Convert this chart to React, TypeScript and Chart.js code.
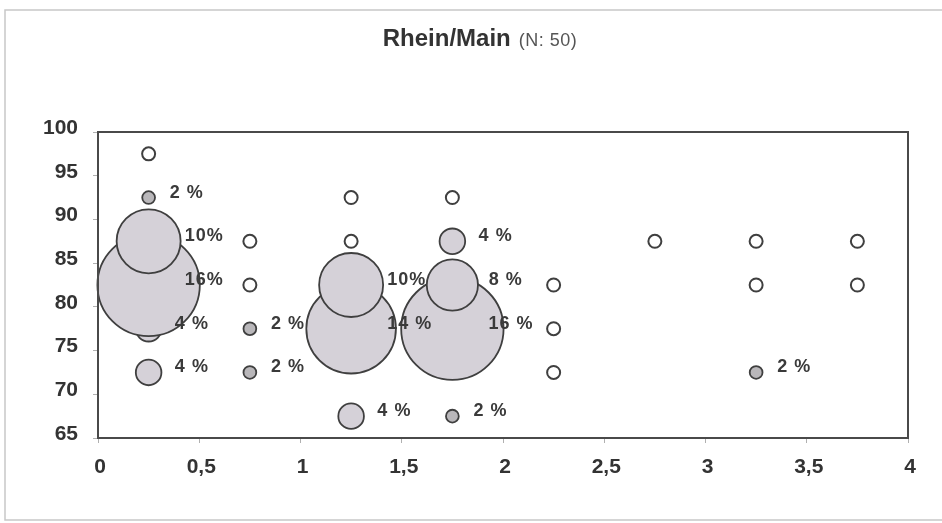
import React, { useEffect, useRef } from "react";
import { Chart, registerables } from "chart.js";

Chart.register(...registerables);

// ---- data ----
const titleMain = "Rhein/Main";
const titleSub = "(N: 50)";

// shaded bubbles (share of respondents in %), listed in drawing order
const bubbleX = [0.25, 0.25, 1.75, 1.25, 0.25, 1.25, 1.75, 0.25, 0.25, 0.75, 0.75, 1.25, 1.75, 1.75, 3.25];
const bubbleY = [77.5, 82.5, 77.5, 77.5, 87.5, 82.5, 82.5, 92.5, 72.5, 77.5, 72.5, 67.5, 87.5, 67.5, 72.5];
const bubbleShare = [4, 16, 16, 14, 10, 10, 8, 2, 4, 2, 2, 4, 4, 2, 2];
const bubbleLabels = ["4 %", "16%", "16 %", "14 %", "10%", "10%", "8 %", "2 %", "4 %", "2 %", "2 %", "4 %", "4 %", "2 %", "2 %"];

// empty (unoccupied) positions
const emptyX = [0.25, 0.75, 0.75, 1.25, 1.25, 1.75, 2.25, 2.25, 2.25, 2.75, 3.25, 3.25, 3.75, 3.75];
const emptyY = [97.5, 87.5, 82.5, 92.5, 87.5, 92.5, 82.5, 77.5, 72.5, 87.5, 87.5, 82.5, 87.5, 82.5];

const xMin = 0, xMax = 4, xStep = 0.5;
const yMin = 65, yMax = 100, yStep = 5;

const FONT = '"Liberation Sans", Arial, sans-serif';
const PX_PER_PERCENT = 3.2;

export default function App() {
  const ref = useRef<HTMLCanvasElement | null>(null);

  useEffect(() => {
    if (!ref.current) return;

    const bubbles = bubbleX.map((x, i) => ({
      x,
      y: bubbleY[i],
      r: bubbleShare[i] * PX_PER_PERCENT,
      share: bubbleShare[i],
      label: bubbleLabels[i],
    }));
    const empties = emptyX.map((x, i) => ({ x, y: emptyY[i], r: 6.5 }));

    const decorPlugin = {
      id: "decor",
      beforeDraw(chart: any) {
        const ctx = chart.ctx;
        ctx.save();
        ctx.fillStyle = "#ffffff";
        ctx.fillRect(0, 0, chart.width, chart.height);
        ctx.strokeStyle = "#c8c8c8";
        ctx.lineWidth = 1.5;
        ctx.beginPath();
        ctx.moveTo(942, 10);
        ctx.lineTo(5, 10);
        ctx.lineTo(5, 520);
        ctx.lineTo(942, 520);
        ctx.stroke();
        ctx.restore();
      },
      afterDatasetsDraw(chart: any) {
        const ctx = chart.ctx;
        const { left, right, top, bottom } = chart.chartArea;
        ctx.save();
        ctx.strokeStyle = "#4a4a4a";
        ctx.lineWidth = 2;
        ctx.strokeRect(left, top, right - left, bottom - top);

        // data labels
        const meta = chart.getDatasetMeta(1);
        ctx.font = `bold 18px ${FONT}`;
        (ctx as any).letterSpacing = "1px";
        ctx.fillStyle = "#3a3a3a";
        ctx.textBaseline = "middle";
        ctx.textAlign = "left";
        meta.data.forEach((el: any, i: number) => {
          const d = bubbles[i];
          const r = d.r;
          const off = r < 30 ? 16 + 0.8 * r : 36;
          ctx.fillText(d.label, el.x + off, el.y - 5);
        });

        // title
        (ctx as any).letterSpacing = "0px";
        ctx.textBaseline = "alphabetic";
        ctx.font = `bold 24px ${FONT}`;
        const w1 = ctx.measureText(titleMain).width;
        ctx.font = `18px ${FONT}`;
        (ctx as any).letterSpacing = "0.5px";
        const w2 = ctx.measureText(titleSub).width;
        const gap = 8;
        const start = 480 - (w1 + gap + w2) / 2;
        ctx.fillStyle = "#333333";
        ctx.font = `bold 24px ${FONT}`;
        (ctx as any).letterSpacing = "0px";
        ctx.fillText(titleMain, start, 46);
        ctx.font = `18px ${FONT}`;
        (ctx as any).letterSpacing = "0.5px";
        ctx.fillStyle = "#555555";
        ctx.fillText(titleSub, start + w1 + gap, 46);
        ctx.restore();
      },
    };

    const fmt = (v: any) => String(v).replace(".", ",");

    const chart = new Chart(ref.current, {
      type: "bubble",
      data: {
        datasets: [
          {
            label: "leer",
            data: empties,
            backgroundColor: "#ffffff",
            borderColor: "#3f3f3f",
            borderWidth: 2,
            clip: false,
          } as any,
          {
            label: "Anteil",
            data: bubbles,
            backgroundColor: (c: any) => (c.raw && c.raw.share <= 2 ? "#b9b7ba" : "#d5d1d8"),
            borderColor: "#3f3f3f",
            borderWidth: 1.8,
            clip: false,
          } as any,
        ],
      },
      options: {
        animation: false,
        responsive: true,
        maintainAspectRatio: false,
        layout: { autoPadding: false, padding: { left: 0, right: 34, top: 132, bottom: 35 } },
        plugins: {
          legend: { display: false },
          title: { display: false },
          tooltip: { enabled: false },
        },
        scales: {
          x: {
            type: "linear",
            min: xMin,
            max: xMax,
            afterFit: (s: any) => { s.height = 50; },
            border: { display: false },
            grid: { drawOnChartArea: false, drawTicks: true, tickLength: 5, color: "#b0b0b0" },
            ticks: {
              stepSize: xStep,
              padding: 12,
              labelOffset: 2,
              color: "#333333",
              font: { family: FONT, size: 21, weight: "bold" },
              callback: (v: any) => fmt(v),
            },
          },
          y: {
            type: "linear",
            min: yMin,
            max: yMax,
            afterFit: (s: any) => { s.width = 98; },
            border: { display: false },
            grid: { drawOnChartArea: false, drawTicks: true, tickLength: 5, color: "#b0b0b0" },
            ticks: {
              stepSize: yStep,
              padding: 15,
              labelOffset: -4,
              color: "#333333",
              font: { family: FONT, size: 21, weight: "bold" },
              callback: (v: any) => fmt(v),
            },
          },
        },
      } as any,
      plugins: [decorPlugin],
    });

    return () => chart.destroy();
  }, []);

  return (
    <div style={{ position: "fixed", left: 0, top: 0, width: 942, height: 523, background: "#fff" }}>
      <canvas ref={ref} />
    </div>
  );
}
